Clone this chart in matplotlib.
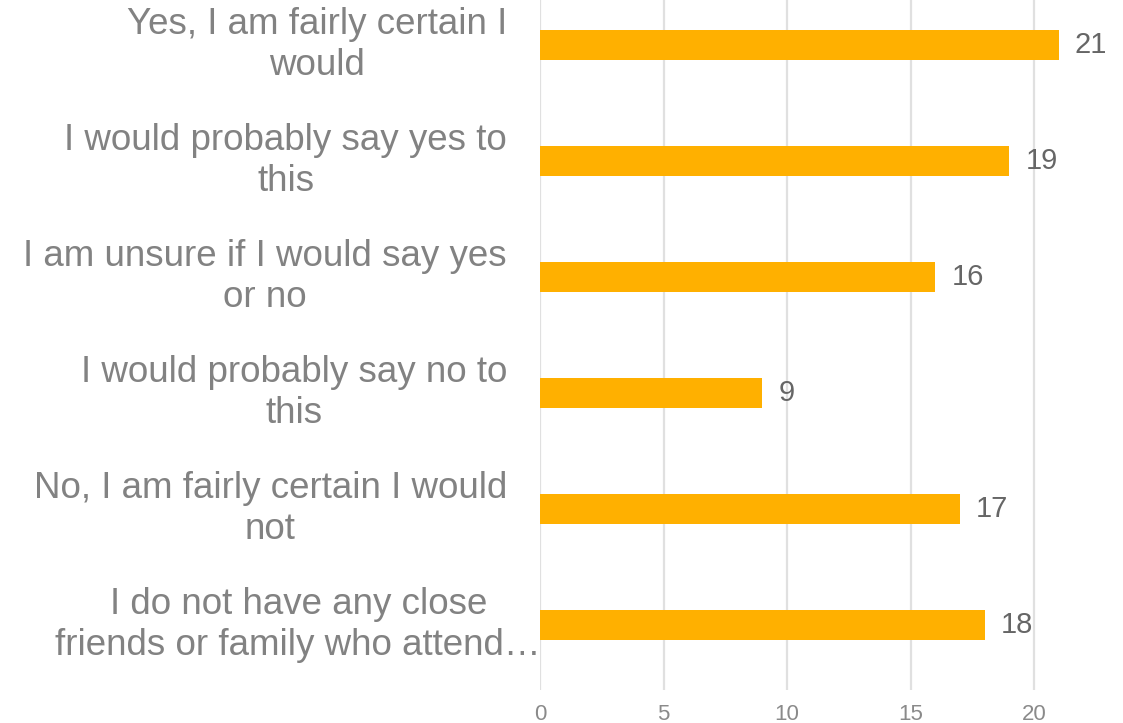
import matplotlib
matplotlib.use("Agg")
import matplotlib.pyplot as plt
import matplotlib.transforms as mtransforms

categories = [
    "Yes, I am fairly certain I\nwould",
    "I would probably say yes to\nthis",
    "I am unsure if I would say yes\nor no",
    "I would probably say no to\nthis",
    "No, I am fairly certain I would\nnot",
    "I do not have any close\nfriends or family who attend\u2026",
]
values = [21, 19, 16, 9, 17, 18]
xticks = [0, 5, 10, 15, 20]

plt.rcParams['font.family'] = ['Liberation Sans', 'DejaVu Sans']

W, H = 1123, 723
fig = plt.figure(figsize=(W / 100, H / 100), dpi=100)
left_px, right_px, top_px, bottom_px = 540, 1123, 0, 690
ax = fig.add_axes([left_px / W, (H - bottom_px) / H,
                   (right_px - left_px) / W, (bottom_px - top_px) / H])

ypos = list(range(len(categories)))
ax.barh(ypos, values, height=0.26, color="#FFB000", zorder=3)
ax.set_ylim(5.56, -0.388)
ax.set_xlim(0, 23.6)

ax.set_xticks(xticks)
ax.set_xticklabels([str(t) for t in xticks])
ax.tick_params(axis='x', length=0, pad=10, labelsize=16, labelcolor="#8a8a8a")
ax.set_yticks([])
ax.grid(axis='x', color="#e0e0e0", linewidth=1.6, zorder=0)
ax.grid(axis='y', visible=False)
for s in ax.spines.values():
    s.set_visible(False)

for y, v in zip(ypos, values):
    ax.text(v + 0.65, y, str(v), va='center', ha='left', fontsize=21,
            color="#666666", zorder=4)

trans = mtransforms.blended_transform_factory(fig.transFigure, ax.transData)
for i, (y, lab) in enumerate(zip(ypos, categories)):
    xr = 507 if i < len(categories) - 1 else 541
    ax.text(xr / W, y, lab, transform=trans, ha='right', va='center',
            multialignment='center', fontsize=26.5, color="#828282",
            linespacing=1.25, clip_on=False)

fig.savefig("out.png", dpi=100)
